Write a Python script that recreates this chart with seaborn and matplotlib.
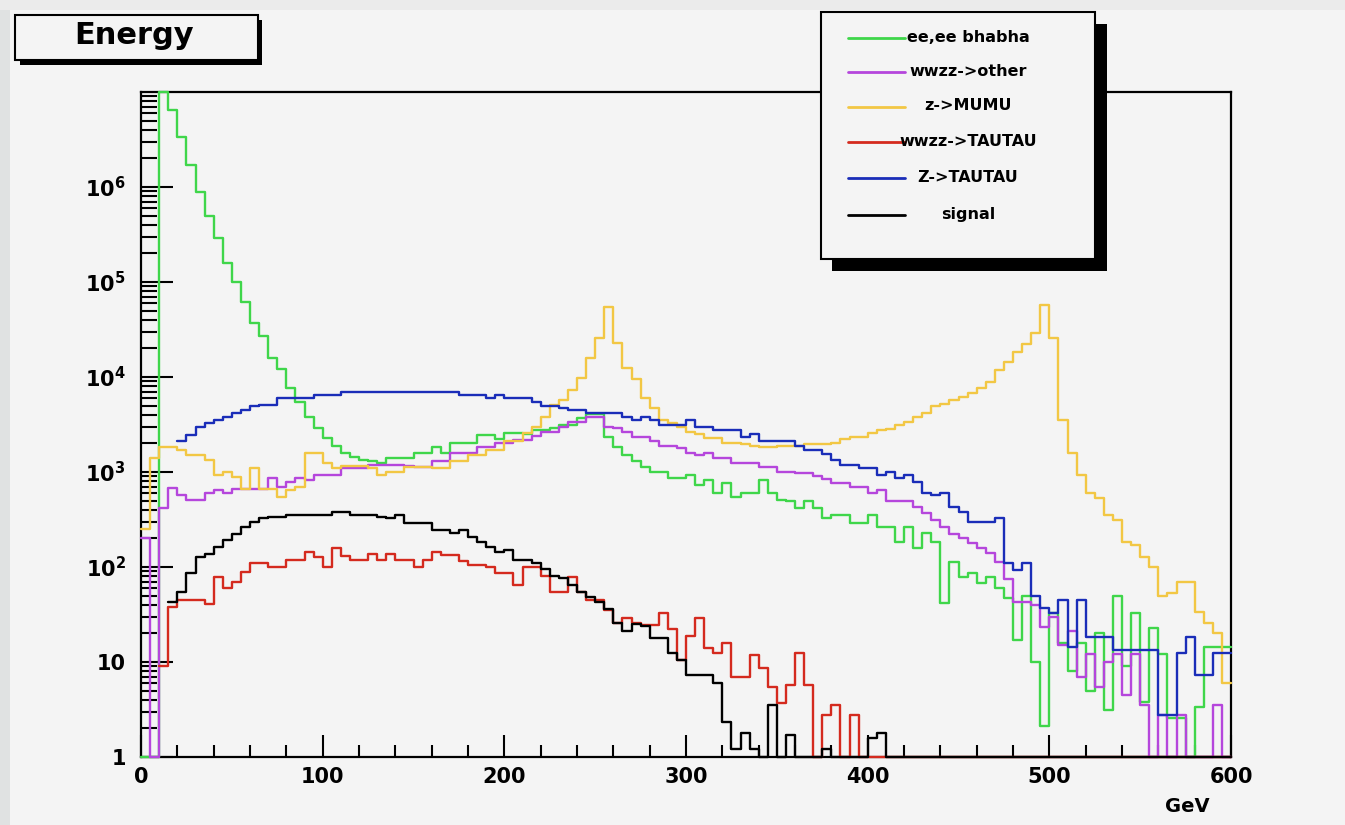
import numpy as np
import matplotlib
matplotlib.use("Agg")
import matplotlib.pyplot as plt
from matplotlib.patches import Rectangle
from matplotlib.lines import Line2D
from matplotlib.ticker import FixedLocator, FixedFormatter, LogLocator, NullFormatter, MultipleLocator
import seaborn as sns

# Energy spectrum, 120 bins of 5 GeV from 0 to 600 GeV (entries per bin)
bin_edges = np.arange(0, 605, 5)

ee_bhabha = [
    0.5, 0.5, 1.0e7, 6.5e6, 3.4e6, 1.7e6, 8.9e5, 4.9e5, 2.9e5, 1.6e5,
    1.0e5, 6.2e4, 3.7e4, 2.7e4, 1.6e4, 1.2e4, 7600, 5500, 3800, 2900,
    2300, 1900, 1600, 1450, 1340, 1300, 1250, 1400, 1400, 1400,
    1600, 1600, 1850, 1580, 2000, 2000, 2000, 2450, 2450, 2200,
    2550, 2550, 2500, 2750, 2750, 2900, 3100, 3100, 3700, 4100,
    4100, 2350, 1850, 1500, 1290, 1140, 1000, 1000, 870, 870,
    930, 730, 830, 600, 770, 550, 600, 600, 830, 600,
    510, 500, 420, 490, 420, 325, 350, 350, 290, 290,
    350, 265, 265, 185, 265, 158, 228, 185, 42, 113,
    79, 86, 68, 79, 60, 47, 17, 49, 10, 2.1,
    33, 16, 8, 16, 5, 20, 3.1, 49, 9, 33,
    3.8, 23, 12, 2.6, 2.6, 0, 3.4, 14.5, 14.5, 14.5,
]

wwzz_other = [
    200, 0, 420, 680, 570, 510, 510, 600, 650, 600,
    670, 670, 670, 670, 860, 700, 790, 860, 830, 930,
    930, 930, 1100, 1100, 1100, 1180, 1180, 1180, 1180, 1150,
    1140, 1140, 1300, 1300, 1580, 1580, 1580, 1850, 1850, 2000,
    2000, 2170, 2170, 2400, 2650, 2650, 3000, 3400, 3400, 3800,
    3800, 3000, 2900, 2650, 2350, 2350, 2100, 1900, 1900, 1800,
    1580, 1500, 1580, 1390, 1390, 1230, 1230, 1230, 1140, 1140,
    1000, 1000, 980, 980, 900, 850, 760, 760, 700, 700,
    600, 650, 490, 490, 490, 430, 370, 310, 265, 225,
    200, 178, 160, 140, 113, 75, 43, 43, 40, 23.6,
    30, 15, 21, 7, 12, 5.5, 10, 12, 4.5, 12,
    3.5, 0, 2.8, 0, 2.8, 0, 0, 0, 3.5, 0,
]

z_mumu = [
    250, 1400, 1850, 1850, 1700, 1500, 1500, 1340, 930, 1000,
    890, 670, 1100, 670, 670, 550, 650, 700, 1580, 1580,
    1230, 1100, 1150, 1150, 1150, 1100, 930, 1000, 1000, 1140,
    1140, 1140, 1100, 1100, 1300, 1300, 1500, 1500, 1700, 1700,
    2100, 2100, 2550, 3000, 3800, 5100, 5700, 7300, 9800, 1.6e4,
    2.6e4, 5.5e4, 2.3e4, 1.24e4, 9500, 6000, 4700, 3500, 3250, 3000,
    2650, 2500, 2300, 2300, 2000, 2000, 1950, 1900, 1850, 1850,
    1900, 1900, 1900, 1950, 1950, 1950, 2000, 2200, 2350, 2350,
    2560, 2750, 2850, 3100, 3400, 3800, 4200, 4900, 5200, 5700,
    6200, 6800, 7600, 8900, 1.18e4, 1.45e4, 1.85e4, 2.2e4, 2.9e4, 5.7e4,
    2.6e4, 3500, 1580, 930, 600, 530, 350, 310, 185, 170,
    128, 100, 49, 53, 70, 70, 34, 26, 20, 6,
]

wwzz_tautau = [
    0, 0, 9, 38, 45, 45, 45, 41, 79, 60,
    70, 89, 110, 110, 100, 100, 118, 118, 145, 128,
    100, 158, 130, 118, 118, 138, 118, 138, 118, 118,
    100, 118, 145, 135, 135, 115, 105, 105, 100, 86,
    86, 65, 100, 100, 80, 55, 55, 79, 55, 45,
    45, 35, 26, 29, 26, 24.5, 24.5, 33, 22, 10.5,
    19, 29, 14, 12.3, 15.8, 7, 7, 11.8, 8.6, 5.5,
    3.7, 5.7, 12.3, 5.7, 0, 2.8, 3.5, 0, 2.8, 0,
] + [0] * 40

z_tautau = [
    0, 0, 0, 0, 2100, 2450, 3000, 3250, 3500, 3800,
    4150, 4500, 4900, 5100, 5100, 6000, 6000, 6000, 6000, 6500,
    6500, 6500, 7000, 7000, 7000, 7000, 7000, 7000, 7000, 7000,
    7000, 7000, 7000, 7000, 7000, 6500, 6500, 6500, 6000, 6500,
    6000, 6000, 6000, 5500, 5000, 5000, 4700, 4500, 4500, 4150,
    4150, 4150, 4150, 3800, 3500, 3800, 3500, 3100, 3100, 3100,
    3500, 3000, 3000, 2750, 2750, 2750, 2350, 2500, 2100, 2100,
    2100, 2100, 1900, 1700, 1700, 1550, 1340, 1180, 1180, 1100,
    1100, 930, 1000, 870, 930, 790, 600, 570, 600, 430,
    380, 300, 300, 300, 325, 110, 93, 110, 49, 37,
    33, 45, 14.5, 45, 18.5, 18.5, 18.5, 13.4, 13.4, 13.4,
    13.4, 13.4, 2.8, 2.8, 12.3, 18.5, 7.3, 7.3, 12.3, 12.3,
]

signal = [
    0, 0, 0, 43, 55, 86, 128, 138, 163, 192,
    225, 265, 300, 325, 340, 340, 355, 355, 355, 355,
    355, 380, 380, 355, 355, 355, 340, 325, 355, 290,
    290, 290, 245, 245, 230, 245, 208, 185, 163, 145,
    150, 118, 118, 110, 95, 80, 76, 64, 55, 48,
    43, 36, 26, 21, 25, 24, 17.8, 17.8, 12.3, 10.5,
    7.3, 7.3, 7.3, 6, 2.35, 1.2, 1.8, 1.2, 0, 3.5,
    0, 1.7, 0, 0, 0, 1.2, 0, 0, 0, 0,
    1.6, 1.8,
] + [0] * 38

series_names = ["ee,ee bhabha", "wwzz->other", "z->MUMU", "wwzz->TAUTAU", "Z->TAUTAU", "signal"]
series_values = [ee_bhabha, wwzz_other, z_mumu, wwzz_tautau, z_tautau, signal]
series_colors = ["#3fd64a", "#b546dc", "#f2c744", "#d42a1e", "#1a2db8", "#000000"]

y_major = [1, 10, 1e2, 1e3, 1e4, 1e5, 1e6]
y_labels = ["1", "10", r"$\mathbf{10^{2}}$", r"$\mathbf{10^{3}}$", r"$\mathbf{10^{4}}$",
            r"$\mathbf{10^{5}}$", r"$\mathbf{10^{6}}$"]

sns.set_theme(style="ticks")
plt.rcParams["font.family"] = ["DejaVu Sans"]
plt.rcParams["font.weight"] = "bold"
plt.rcParams["mathtext.fontset"] = "dejavusans"
plt.rcParams["text.color"] = "black"
plt.rcParams["xtick.color"] = "black"
plt.rcParams["ytick.color"] = "black"
plt.rcParams["xtick.labelcolor"] = "black"
plt.rcParams["ytick.labelcolor"] = "black"

W, H = 1345, 825
CANVAS = "#f4f4f4"
fig = plt.figure(figsize=(W / 100, H / 100), dpi=100, facecolor=CANVAS)


def fx(px):
    return px / W


def fy(py):
    return 1 - py / H


# darker outer rim of the canvas
fig.add_artist(Rectangle((0, 0), fx(10), 1, transform=fig.transFigure,
                         facecolor="#e0e2e2", edgecolor="none", zorder=-5))
fig.add_artist(Rectangle((0, fy(10)), 1, 10 / H, transform=fig.transFigure,
                         facecolor="#ebebeb", edgecolor="none", zorder=-5))

ax = fig.add_axes([fx(141), fy(757), fx(1231) - fx(141), fy(92) - fy(757)])
ax.set_facecolor(CANVAS)
ax.set_yscale("log")

for vals, color in zip(series_values, series_colors):
    v = np.asarray(vals, dtype=float)
    first = np.flatnonzero(v > 0)[0]          # leading empty bins are not drawn
    x = bin_edges[first:]
    y = np.clip(np.append(v[first:], v[-1]), 1.0, None)
    sns.lineplot(x=x, y=y, drawstyle="steps-post", color=color, linewidth=1.7,
                 estimator=None, sort=False, ax=ax, clip_on=False, zorder=3)

ax.set_xlim(0, 600)
ax.set_ylim(1, 1e7)
ax.set_xlabel("")
ax.set_ylabel("")

for s in ax.spines.values():
    s.set_visible(True)
    s.set_linewidth(1.6)
    s.set_color("black")

ax.xaxis.set_major_locator(MultipleLocator(100))
ax.xaxis.set_minor_locator(MultipleLocator(20))
ax.yaxis.set_major_locator(FixedLocator(y_major))
ax.yaxis.set_major_formatter(FixedFormatter(y_labels))
ax.yaxis.set_minor_locator(LogLocator(base=10, subs=np.arange(2, 10), numticks=30))
ax.yaxis.set_minor_formatter(NullFormatter())

ax.tick_params(axis="both", which="both", direction="in", colors="black",
               width=1.5, top=False, right=False)
ax.tick_params(axis="y", which="major", length=23, pad=11, labelsize=15)
ax.tick_params(axis="y", which="minor", length=11.5)
ax.tick_params(axis="x", which="major", length=16, pad=7, labelsize=15)
ax.tick_params(axis="x", which="minor", length=8.5)
for lab in ax.get_xticklabels() + ax.get_yticklabels():
    lab.set_fontweight("bold")
    lab.set_color("black")

fig.text(fx(1187), fy(807), "GeV", ha="center", va="center", fontsize=14,
         fontweight="bold", color="black")

# title box with drop shadow
fig.add_artist(Rectangle((fx(20), fy(65)), fx(262) - fx(20), (65 - 20) / H,
                         transform=fig.transFigure, facecolor="black", edgecolor="none", zorder=5))
fig.add_artist(Rectangle((fx(15), fy(60)), fx(258) - fx(15), (60 - 15) / H,
                         transform=fig.transFigure, facecolor=CANVAS, edgecolor="black",
                         linewidth=1.5, zorder=6))
fig.text(fx(134), fy(36), "Energy", ha="center", va="center", fontsize=22,
         fontweight="bold", color="black", zorder=7)

# legend box with drop shadow
fig.add_artist(Rectangle((fx(832), fy(271)), fx(1107) - fx(832), (271 - 24) / H,
                         transform=fig.transFigure, facecolor="black", edgecolor="none", zorder=5))
fig.add_artist(Rectangle((fx(821), fy(259)), fx(1095) - fx(821), (259 - 12) / H,
                         transform=fig.transFigure, facecolor=CANVAS, edgecolor="black",
                         linewidth=1.5, zorder=6))
entry_y = [38, 72, 107, 142, 178, 215]
for name, color, ey in zip(series_names, series_colors, entry_y):
    fig.add_artist(Line2D([fx(848), fx(905)], [fy(ey), fy(ey)], transform=fig.transFigure,
                          color=color, linewidth=2.0, zorder=7))
    fig.text(fx(968), fy(ey - 1), name, ha="center", va="center", fontsize=11.5,
             fontweight="bold", color="black", zorder=8)

fig.savefig("out.png", dpi=100, facecolor=fig.get_facecolor())
